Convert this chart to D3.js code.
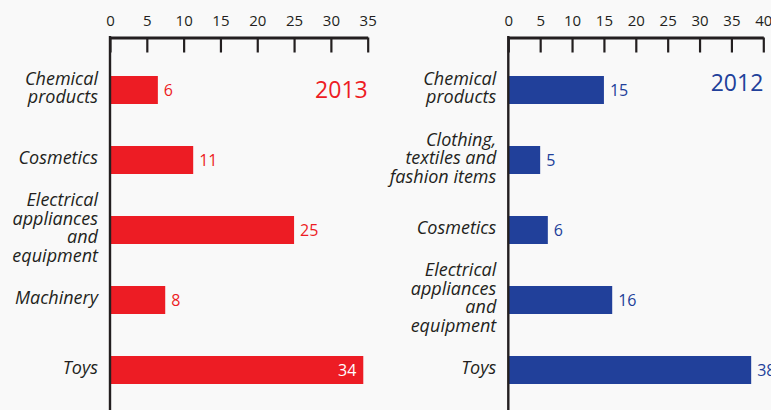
<!DOCTYPE html>
<html>
<head>
<meta charset="utf-8">
<script src="https://cdn.jsdelivr.net/npm/d3@7"></script>
<style>
  html, body { margin: 0; padding: 0; background: #f9f9f9; }
  svg { display: block; }
  .tick text { font-family: "Open Sans", sans-serif; font-size: 15px; fill: #231f20; }
  .cat { font-family: "Open Sans", sans-serif; font-style: italic; font-size: 18px; fill: #231f20; }
  .val { font-family: "Open Sans", sans-serif; font-size: 16px; }
  .year { font-family: "Open Sans", sans-serif; font-size: 23px; }
</style>
</head>
<body>
<div id="chart"></div>
<script>
// data
var categories2013 = ["Chemical\nproducts", "Cosmetics", "Electrical\nappliances\nand\nequipment", "Machinery", "Toys"];
var values2013 = [6.5, 11.3, 25, 7.5, 34.4];
var labels2013 = ["6", "11", "25", "8", "34"];

var categories2012 = ["Chemical\nproducts", "Clothing,\ntextiles and\nfashion items", "Cosmetics", "Electrical\nappliances\nand\nequipment", "Toys"];
var values2012 = [15, 5, 6.2, 16.3, 38.1];
var labels2012 = ["15", "5", "6", "16", "38"];

var ticks2013 = [0, 5, 10, 15, 20, 25, 30, 35];
var ticks2012 = [0, 5, 10, 15, 20, 25, 30, 35, 40];

var W = 771, H = 410;
var axisY = 37.5;
var lineH = 18.5;

var svg = d3.select("#chart").append("svg")
    .attr("width", W)
    .attr("height", H);

svg.append("rect").attr("width", W).attr("height", H).attr("fill", "#f9f9f9");

var panels = [
    {year: "2013", cats: categories2013, vals: values2013, labels: labels2013, ticks: ticks2013,
     max: 35, x0: 110, x1: 367.7, color: "#ed1c24", yearDy: 8},
    {year: "2012", cats: categories2012, vals: values2012, labels: labels2012, ticks: ticks2012,
     max: 40, x0: 508.3, x1: 763.3, color: "#21409a", yearDy: 1}
];

panels.forEach(function (p) {
    var scalex = d3.scaleLinear().domain([0, p.max]).range([p.x0, p.x1]);
    var scaley = d3.scaleBand().domain(d3.range(p.cats.length))
        .range([55, 405]).paddingInner(0.6).paddingOuter(0.3);

    var g = svg.append("g");

    // bars
    g.selectAll("rect.bar")
        .data(p.vals)
        .enter().append("rect")
        .attr("class", "bar")
        .attr("x", scalex(0))
        .attr("y", function (d, i) { return scaley(i); })
        .attr("width", function (d) { return scalex(d) - scalex(0); })
        .attr("height", scaley.bandwidth())
        .attr("fill", p.color);

    // value labels
    g.selectAll("text.val")
        .data(p.vals)
        .enter().append("text")
        .attr("class", "val")
        .each(function (d, i) {
            var inside = d / p.max > 0.97;
            d3.select(this)
                .attr("x", inside ? scalex(d) - 7 : scalex(d) + 6)
                .attr("y", scaley(i) + scaley.bandwidth() / 2 + 6)
                .attr("text-anchor", inside ? "end" : "start")
                .attr("fill", inside ? "#fff" : p.color)
                .text(p.labels[i]);
        });

    // category labels, multi line
    g.selectAll("text.cat")
        .data(p.cats)
        .enter().append("text")
        .attr("class", "cat")
        .attr("text-anchor", "end")
        .each(function (d, i) {
            var lines = d.split("\n");
            var cy = scaley(i) + scaley.bandwidth() / 2;
            var first = cy - (lines.length - 1) * lineH / 2 + 4;
            var t = d3.select(this);
            lines.forEach(function (l, j) {
                t.append("tspan")
                    .attr("x", scalex(0) - 12)
                    .attr("y", first + j * lineH)
                    .text(l);
            });
        });

    // top axis, ticks pointing down
    var ax = g.append("g")
        .attr("transform", "translate(0," + axisY + ")")
        .call(d3.axisTop(scalex)
            .tickValues(p.ticks)
            .tickSizeInner(-15)
            .tickSizeOuter(0)
            .tickPadding(12));
    ax.select(".domain").attr("stroke", "#231f20").attr("stroke-width", 3);
    ax.selectAll(".tick line").attr("stroke", "#231f20").attr("stroke-width", 2.2);

    // vertical base line
    g.append("line")
        .attr("x1", scalex(0)).attr("x2", scalex(0))
        .attr("y1", axisY - 1.5).attr("y2", H)
        .attr("stroke", "#231f20")
        .attr("stroke-width", 2.4);

    // year
    g.append("text")
        .attr("class", "year")
        .attr("x", scalex(p.max))
        .attr("y", scaley(0) + scaley.bandwidth() / 2 + p.yearDy)
        .attr("text-anchor", "end")
        .attr("fill", p.color)
        .text(p.year);
});
</script>
</body>
</html>
